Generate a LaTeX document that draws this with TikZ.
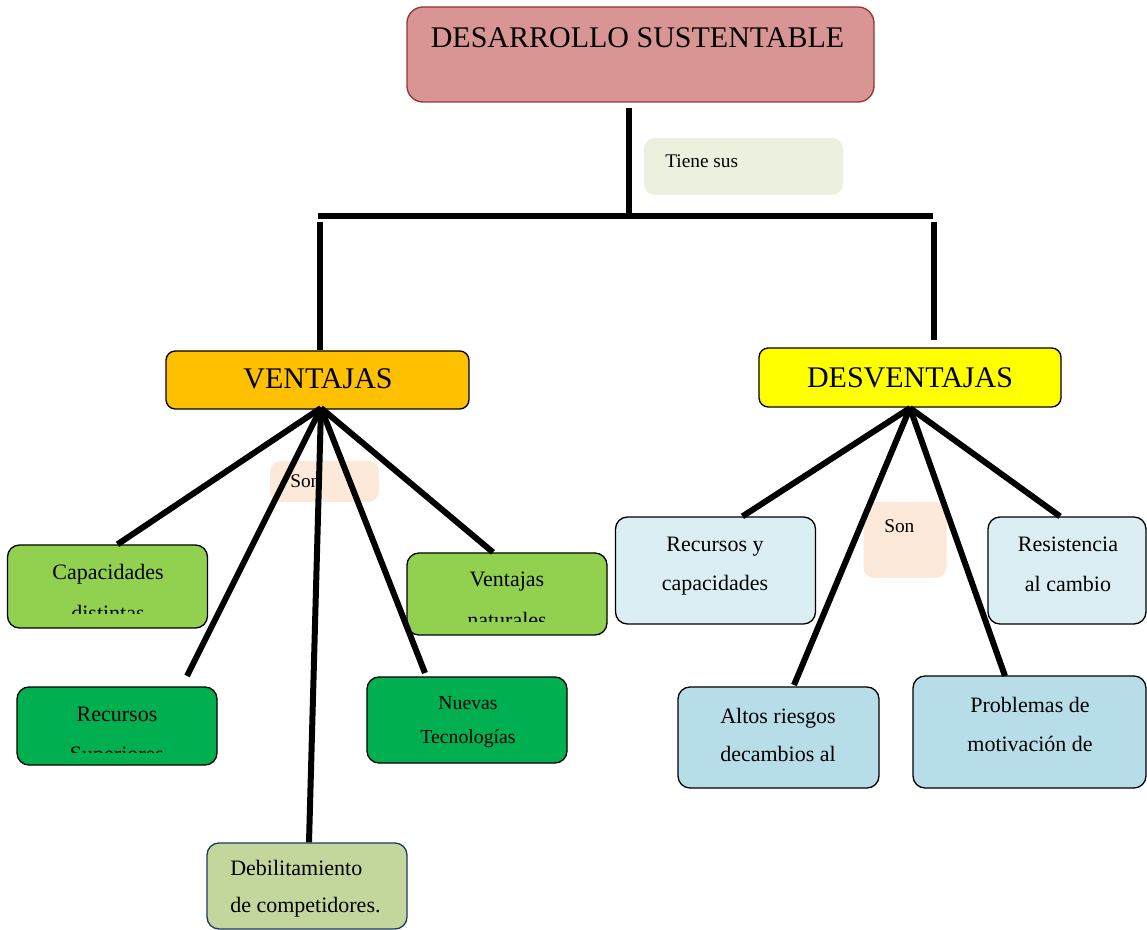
\documentclass[tikz,border=0pt]{standalone}
\usepackage{fontspec}
\setmainfont{Liberation Serif}
\usetikzlibrary{calc}

\definecolor{devfill}{HTML}{D99594}
\definecolor{devline}{HTML}{943634}
\definecolor{tienefill}{HTML}{EBF1DE}
\definecolor{venfill}{HTML}{FFC000}
\definecolor{desfill}{HTML}{FFFF00}
\definecolor{sonfill}{HTML}{FDE9D9}
\definecolor{lgreen}{HTML}{92D050}
\definecolor{dgreen}{HTML}{00B050}
\definecolor{olive}{HTML}{C3D69B}
\definecolor{navy}{HTML}{1F3864}
\definecolor{pblue}{HTML}{DAEEF3}
\definecolor{mblue}{HTML}{B7DDE8}

\tikzset{
  box/.style={draw, line width=1pt, rounded corners=9pt, inner sep=0pt},
  tag/.style={rounded corners=8pt, inner sep=0pt},
  conn/.style={line width=4.5pt},
  txt/.style={inner sep=0pt, anchor=base, align=center},
  leaf/.style={txt, font=\fontsize{16.5}{#1}\selectfont},
  head/.style={txt, font=\fontsize{22.5}{27}\selectfont},
  small/.style={inner sep=0pt, anchor=base west, font=\fontsize{14.5}{17}\selectfont}
}

\begin{document}
\begin{tikzpicture}[x=0.75pt, y=-0.75pt]
  \useasboundingbox (0,0) rectangle (1147,930);

  % title and the bus under it
  \node[box, rounded corners=12pt, draw=devline, fill=devfill, minimum width=350.25pt, minimum height=71.25pt] (dev) at (640.5,54.5) {};
  \node[head] (dev-t) at (637.5,48) {DESARROLLO SUSTENTABLE};
  \node[tag, fill=tienefill, minimum width=149.25pt, minimum height=42.75pt] (tiene) at (743.5,166.5) {};
  \node[small] (tiene-t) at (665,168) {Tiene sus};

  \coordinate (t1) at (629,108);
  \coordinate (busL) at (318,216);
  \coordinate (busR) at (933,216);
  \coordinate (vT) at (320,222);
  \coordinate (dT) at (934,222);
  \coordinate (dB) at (934,340);
  \draw[conn] (t1) -- (t1 |- busL);
  \draw[conn] (busL) -- (busR);

  \node[box, rounded corners=7pt, fill=venfill, minimum width=227.25pt, minimum height=43.5pt] (ven) at (317.5,380) {};
  \node[head] (ven-t) at (318,389) {VENTAJAS};
  \node[box, rounded corners=7pt, fill=desfill, minimum width=226.5pt, minimum height=44.25pt] (des) at (910,377.5) {};
  \node[head] (des-t) at (910,388) {DESVENTAJAS};
  \draw[conn] (vT) -- (vT |- ven.north);
  \draw[conn] (dT) -- (dB);

  % "Son" tags, crossed by the lines
  \node[tag, fill=sonfill, minimum width=81.75pt, minimum height=30.75pt] (sonL) at (324.5,481.5) {};
  \node[small] (sonL-t) at (290,488) {Son};
  \node[tag, fill=sonfill, minimum width=62.25pt, minimum height=57pt] (sonR) at (905,540) {};
  \node[small] (sonR-t) at (884,533) {Son};

  \coordinate (vA) at (321,408);
  \coordinate (dA) at (910,408);
  \coordinate (rsupE) at (187,676);
  \coordinate (nuevE) at (425,673);
  \coordinate (altE) at (794,685);
  \coordinate (probE) at (1005,676);

  % leaves under VENTAJAS (base = last line)
  \node[box, fill=lgreen, minimum width=150pt, minimum height=62.25pt] (cap) at (107.5,586.5) {};
  \node[box, fill=lgreen, minimum width=150pt, minimum height=61.5pt] (vnat) at (507,594) {};
  \node[box, fill=dgreen, minimum width=150pt, minimum height=58.5pt] (rsup) at (117,726) {};
  \node[box, fill=dgreen, minimum width=150pt, minimum height=64.5pt] (nuev) at (467,720) {};
  \node[box, draw=navy, fill=olive, minimum width=150pt, minimum height=64.5pt] (deb) at (307,886) {};

  \draw[conn] (vA) -- ($(cap.north)+(10,0)$);
  \draw[conn] (vA) -- (rsupE);
  \draw[conn] (vA) -- ($(deb.north)+(2,0)$);
  \draw[conn] (vA) -- (nuevE);
  \draw[conn] (vA) -- ($(vnat.north)+(-14,0)$);

  \begin{scope}
    \clip (8,546) rectangle (208,614);
    \node[leaf=30.75pt] (cap-t) at (108,620) {Capacidades\\distintas};
  \end{scope}
  \begin{scope}
    \clip (407,554) rectangle (607,622);
    \node[leaf=30.75pt] (vnat-t) at (507,628) {Ventajas\\naturales};
  \end{scope}
  \begin{scope}
    \clip (17,688) rectangle (217,752);
    \node[leaf=30pt] (rsup-t) at (117,761) {Recursos\\Superiores};
  \end{scope}
  \node[txt, font=\fontsize{14.8}{25.5}\selectfont] (nuev-t) at (468,743) {Nuevas\\Tecnologías};
  \node[leaf=27.75pt, anchor=base west, align=left] (deb-t) at (230,912) {Debilitamiento\\de competidores.};

  % leaves under DESVENTAJAS
  \node[box, fill=pblue, minimum width=150pt, minimum height=80.25pt] (rcap) at (715.5,570.5) {};
  \node[box, fill=pblue, minimum width=118.5pt, minimum height=80.25pt] (resis) at (1067,570.5) {};
  \node[box, fill=mblue, minimum width=150.75pt, minimum height=75.75pt] (altos) at (778.5,737.5) {};
  \node[box, fill=mblue, minimum width=174.75pt, minimum height=84pt] (prob) at (1029.5,732) {};

  \draw[conn] (dA) -- ($(rcap.north)+(27,0)$);
  \draw[conn] (dA) -- (altE);
  \draw[conn] (dA) -- (probE);
  \draw[conn] (dA) -- ($(resis.north)+(-7,0)$);

  \node[leaf=29.25pt] (rcap-t) at (715,591) {Recursos y\\capacidades};
  \node[leaf=30pt] (resis-t) at (1068,592) {Resistencia\\al cambio};
  \node[leaf=28.5pt] (altos-t) at (778,761) {Altos riesgos\\decambios al};
  \node[leaf=29.25pt] (prob-t) at (1030,751) {Problemas de\\motivación de};
\end{tikzpicture}
\end{document}
